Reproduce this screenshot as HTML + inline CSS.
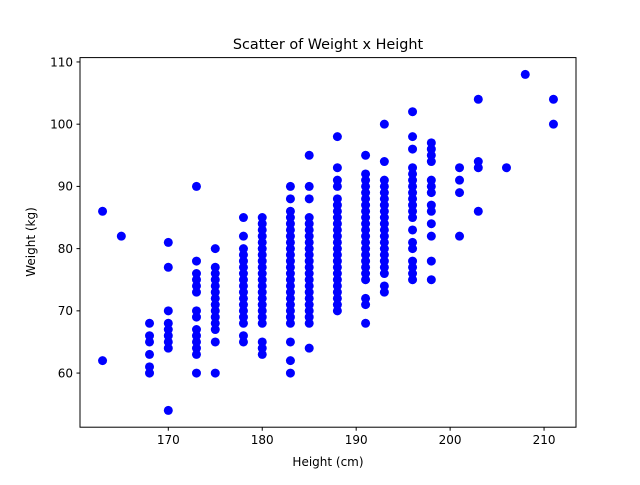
<!DOCTYPE html>
<html><head><meta charset="utf-8"><style>
body{margin:0;background:#fff}
svg text{font-family:"DejaVu Sans","Liberation Sans",sans-serif;fill:#000}
</style></head><body>
<svg id="chart" width="640" height="480" xmlns="http://www.w3.org/2000/svg">
<rect width="640" height="480" fill="#fff"/>
<text x="328" y="49" font-size="14.4" text-anchor="middle">Scatter of Weight x Height</text>
<g id="points"></g>
<g id="axes"></g>
<rect x="80" y="57.6" width="496" height="369.6" fill="none" stroke="#000" stroke-width="1"/>
<text x="328" y="466" font-size="12" text-anchor="middle">Height (cm)</text>
<text transform="translate(35,242) rotate(-90)" font-size="12" text-anchor="middle">Weight (kg)</text>
</svg>
<script>
const heights=[163,165,168,170,173,175,178,180,183,185,188,191,193,196,198,201,203,206,208,211];
const weightsByHeight=[
[62,86],
[82],
[60,61,63,65,66,68],
[54,64,65,66,67,68,70,77,81],
[60,63,64,65,66,67,69,70,73,74,75,76,78,90],
[60,65,67,68,69,70,71,72,73,74,75,76,77,80],
[65,66,68,69,70,71,72,73,74,75,76,77,78,79,80,82,85],
[63,64,65,68,69,70,71,72,73,74,75,76,77,78,79,80,81,82,83,84,85],
[60,62,65,68,69,70,71,72,73,74,75,76,77,78,79,80,81,82,83,84,85,86,88,90],
[64,68,69,70,71,72,73,74,75,76,77,78,79,80,81,82,83,84,85,88,90,95],
[70,71,72,73,74,75,76,77,78,79,80,81,82,83,84,85,86,87,88,90,91,93,98],
[68,71,72,75,76,77,78,79,80,81,82,83,84,85,86,87,88,89,90,91,92,95],
[73,74,76,77,78,79,80,81,82,83,84,85,86,87,88,89,90,91,94,100],
[75,76,77,78,80,81,83,85,86,87,88,89,90,91,92,93,96,98,102],
[75,78,82,84,86,87,89,90,91,94,95,96,97],
[82,89,91,93],
[86,93,94,104],
[93],
[108],
[100,104]
];
const xTicks=[170,180,190,200,210];
const yTicks=[60,70,80,90,100,110];
const X0=80,X1=576,Y0=427.2,Y1=57.6,xmin=160.6,xmax=213.4,ymin=51.3,ymax=110.7;
const sx=v=>X0+(v-xmin)/(xmax-xmin)*(X1-X0);
const sy=v=>Y0-(v-ymin)/(ymax-ymin)*(Y0-Y1);
const NS="http://www.w3.org/2000/svg";
const pg=document.getElementById('points');
heights.forEach((h,i)=>{weightsByHeight[i].forEach(w=>{
const c=document.createElementNS(NS,'circle');


c.setAttribute('cx',sx(h));c.setAttribute('cy',sy(w));c.setAttribute('r',4.5);c.setAttribute('fill','#0000ff');
pg.appendChild(c);});});
const ag=document.getElementById('axes');
xTicks.forEach(t=>{
const l=document.createElementNS(NS,'line');


l.setAttribute('x1',sx(t));l.setAttribute('x2',sx(t));l.setAttribute('y1',Y0);l.setAttribute('y2',Y0+3.5);l.setAttribute('stroke','#000');
ag.appendChild(l);
const tx=document.createElementNS(NS,'text');


tx.setAttribute('x',sx(t));tx.setAttribute('y',Y0+17);tx.setAttribute('font-size','12');tx.setAttribute('text-anchor','middle');tx.textContent=t;
ag.appendChild(tx);});
yTicks.forEach(t=>{
const l=document.createElementNS(NS,'line');


l.setAttribute('x1',X0-3.5);l.setAttribute('x2',X0);l.setAttribute('y1',sy(t));l.setAttribute('y2',sy(t));l.setAttribute('stroke','#000');
ag.appendChild(l);
const tx=document.createElementNS(NS,'text');


tx.setAttribute('x',X0-7);tx.setAttribute('y',sy(t)+4.3);tx.setAttribute('font-size','12');tx.setAttribute('text-anchor','end');tx.textContent=t;
ag.appendChild(tx);});
</script>
</body></html>
